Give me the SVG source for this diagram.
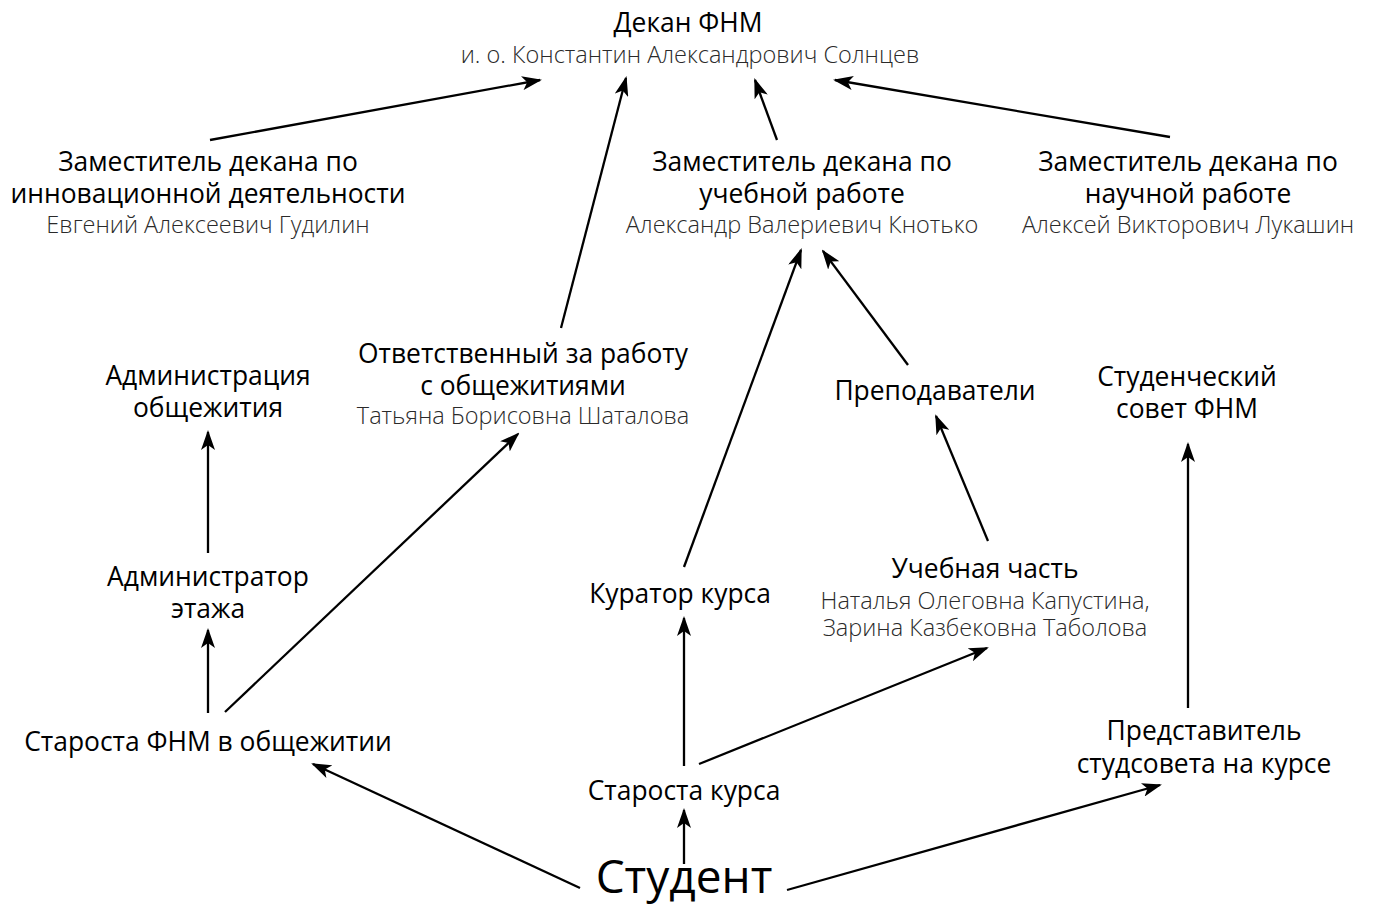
<svg xmlns="http://www.w3.org/2000/svg" width="1375" height="904" viewBox="0 0 1375 904">
<style>
text{font-family:"Open Sans","Noto Sans","DejaVu Sans",sans-serif;text-anchor:middle;fill:#000}
.t{font-size:26.4px;font-weight:400}
.n{font-size:23.5px;font-weight:300;fill:#2a2a2a}
.big{font-size:46px;font-weight:400}
.c line{stroke:#000;stroke-width:2.3;marker-end:url(#ah)}
</style>
<defs>
<marker id="ah" viewBox="0 0 20 14" refX="18" refY="7" markerWidth="20" markerHeight="14" markerUnits="userSpaceOnUse" orient="auto">
<path d="M0,0 L20,7 L0,14 L5,7 Z" fill="#000"/>
</marker>
</defs>
<rect width="1375" height="904" fill="#fff"/>
<g class="c" id="connectors">
<line x1="210" y1="140" x2="540" y2="80"/>
<line x1="561" y1="328" x2="626" y2="78"/>
<line x1="777" y1="140" x2="755" y2="80"/>
<line x1="1170" y1="137" x2="835" y2="80"/>
<line x1="684" y1="567" x2="801" y2="250"/>
<line x1="908" y1="365" x2="823" y2="251"/>
<line x1="988" y1="541" x2="936" y2="416"/>
<line x1="208" y1="553" x2="208" y2="432"/>
<line x1="208" y1="713" x2="208" y2="630"/>
<line x1="225" y1="712" x2="518" y2="434"/>
<line x1="684" y1="766" x2="684" y2="618"/>
<line x1="699" y1="764" x2="987" y2="648"/>
<line x1="1188" y1="708" x2="1188" y2="444"/>
<line x1="580" y1="888" x2="313" y2="764"/>
<line x1="684" y1="864" x2="684" y2="810"/>
<line x1="787" y1="890" x2="1160" y2="785"/>
</g>
<g id="dean"><text class="t" x="688" y="32">Декан ФНМ</text><text class="n" x="690" y="63">и. о. Константин Александрович Солнцев</text></g>
<g id="dep-innov"><text class="t" x="208" y="171">Заместитель декана по</text><text class="t" x="208" y="203">инновационной деятельности</text><text class="n" x="208" y="233">Евгений Алексеевич Гудилин</text></g>
<g id="dep-study"><text class="t" x="802" y="171">Заместитель декана по</text><text class="t" x="802" y="203">учебной работе</text><text class="n" x="802" y="233">Александр Валериевич Кнотько</text></g>
<g id="dep-science"><text class="t" x="1188" y="171">Заместитель декана по</text><text class="t" x="1188" y="203">научной работе</text><text class="n" x="1188" y="233">Алексей Викторович Лукашин</text></g>
<g id="dorm-admin"><text class="t" x="208" y="385">Администрация</text><text class="t" x="208" y="417">общежития</text></g>
<g id="dorm-resp"><text class="t" x="523" y="363">Ответственный за работу</text><text class="t" x="523" y="395">с общежитиями</text><text class="n" x="523" y="424">Татьяна Борисовна Шаталова</text></g>
<g id="teachers"><text class="t" x="935" y="400">Преподаватели</text></g>
<g id="council"><text class="t" x="1187" y="386">Студенческий</text><text class="t" x="1187" y="418">совет ФНМ</text></g>
<g id="floor-admin"><text class="t" x="208" y="586">Администратор</text><text class="t" x="208" y="618">этажа</text></g>
<g id="curator"><text class="t" x="680" y="603">Куратор курса</text></g>
<g id="office"><text class="t" x="985" y="578">Учебная часть</text><text class="n" x="985" y="609">Наталья Олеговна Капустина,</text><text class="n" x="985" y="636">Зарина Казбековна Таболова</text></g>
<g id="dorm-head"><text class="t" x="208" y="751">Староста ФНМ в общежитии</text></g>
<g id="course-head"><text class="t" x="684" y="800">Староста курса</text></g>
<g id="council-rep"><text class="t" x="1204" y="740">Представитель</text><text class="t" x="1204" y="773">студсовета на курсе</text></g>
<g id="student"><text class="big" x="684" y="893">Студент</text></g>
</svg>
